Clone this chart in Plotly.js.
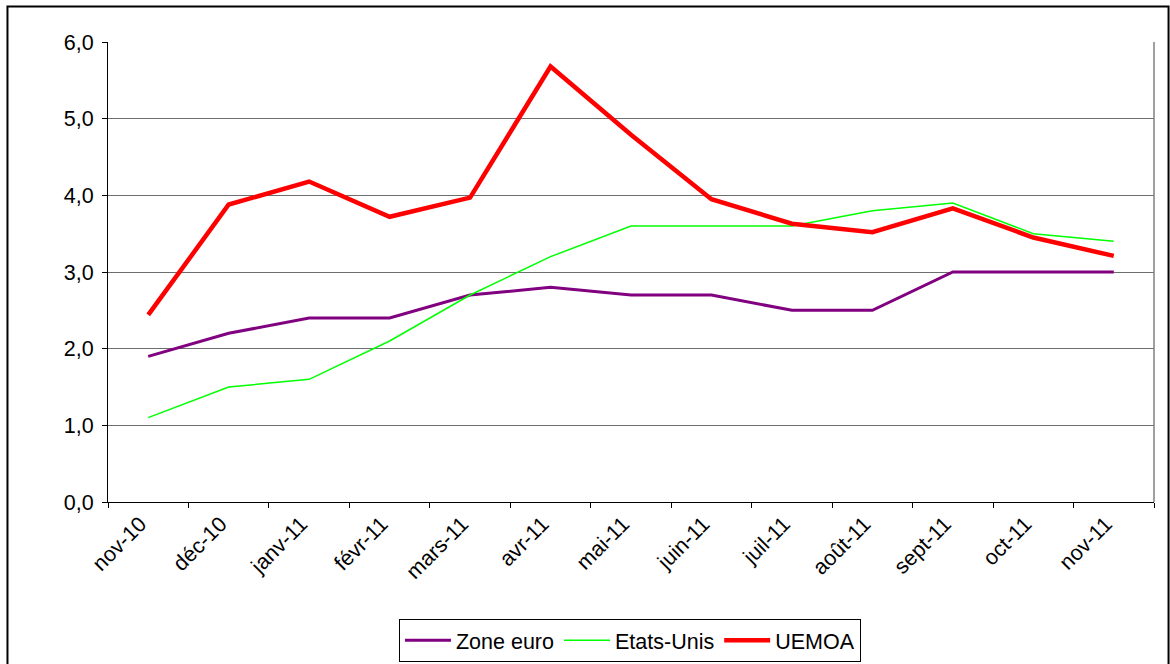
<!DOCTYPE html>
<html>
<head>
<meta charset="utf-8">
<script src="https://cdn.plot.ly/plotly-3.0.1.min.js"></script>
<style>
  html, body { margin: 0; padding: 0; background: #fff; }
  #chart { width: 1170px; height: 664px; }
</style>
</head>
<body>
<div id="chart"></div>
<script>
const months = ['nov-10', 'déc-10', 'janv-11', 'févr-11', 'mars-11', 'avr-11', 'mai-11',
  'juin-11', 'juil-11', 'août-11', 'sept-11', 'oct-11', 'nov-11'];
const zoneEuro = [1.9, 2.2, 2.4, 2.4, 2.7, 2.8, 2.7, 2.7, 2.5, 2.5, 3.0, 3.0, 3.0];
const etatsUnis = [1.1, 1.5, 1.6, 2.1, 2.7, 3.2, 3.6, 3.6, 3.6, 3.8, 3.9, 3.5, 3.4];
const uemoa = [2.44, 3.88, 4.18, 3.72, 3.97, 5.68, 4.79, 3.95, 3.63, 3.52, 3.83, 3.45, 3.21];
const yTicks = [0, 1, 2, 3, 4, 5, 6];

const fontFamily = '"Liberation Sans", Arial, sans-serif';

const traces = [
  { x: months, y: zoneEuro, name: 'Zone euro', type: 'scatter', mode: 'lines',
    line: { color: '#800080', width: 3 } },
  { x: months, y: etatsUnis, name: 'Etats-Unis', type: 'scatter', mode: 'lines',
    line: { color: '#00ff00', width: 1.5 } },
  { x: months, y: uemoa, name: 'UEMOA', type: 'scatter', mode: 'lines',
    line: { color: '#ff0000', width: 4.5 } }
];

const layout = {
  width: 1170,
  height: 664,
  margin: { l: 108, r: 16, t: 42, b: 162, autoexpand: false },
  paper_bgcolor: '#ffffff',
  plot_bgcolor: '#ffffff',
  separators: ',.',
  font: { family: fontFamily, size: 21.5, color: '#000' },
  showlegend: true,
  xaxis: {
    type: 'category',
    automargin: false,
    range: [-0.5, months.length - 0.5],
    tickson: 'boundaries',
    ticks: 'outside',
    ticklen: 5,
    tickcolor: '#000',
    tickangle: -45,
    ticklabelshift: -8,
    showgrid: false,
    showline: true,
    linecolor: '#000',
    linewidth: 1,
    tickfont: { size: 21.5 },
    zeroline: false
  },
  yaxis: {
    automargin: false,
    range: [0, 6],
    tickvals: yTicks,
    tickformat: '.1f',
    ticks: 'outside',
    ticklen: 5,
    tickcolor: '#000',
    ticklabelstandoff: 4,
    showgrid: true,
    gridcolor: '#6e6e6e',
    gridwidth: 1.2,
    showline: true,
    linecolor: '#000',
    linewidth: 1,
    zeroline: false,
    tickfont: { size: 21.5 }
  },
  legend: {
    orientation: 'h',
    x: 0.499,
    xanchor: 'center',
    y: -0.254,
    yanchor: 'top',
    bordercolor: '#000',
    borderwidth: 1,
    bgcolor: '#fff',
    font: { size: 21.5 },
    itemwidth: 46,
    tracegroupgap: 0
  },
  shapes: [
    // right edge of plot area
    { type: 'line', xref: 'paper', yref: 'paper', x0: 1, x1: 1, y0: 0, y1: 1,
      line: { color: '#808080', width: 1.5 } },
    // outer chart frame
    { type: 'rect', xref: 'paper', yref: 'paper',
      x0: -0.0961, x1: 1.0139, y0: -0.45, y1: 1.0772,
      line: { color: '#000', width: 2 }, layer: 'below' }
  ]
};

Plotly.newPlot('chart', traces, layout, { displayModeBar: false, responsive: false });
</script>
</body>
</html>
